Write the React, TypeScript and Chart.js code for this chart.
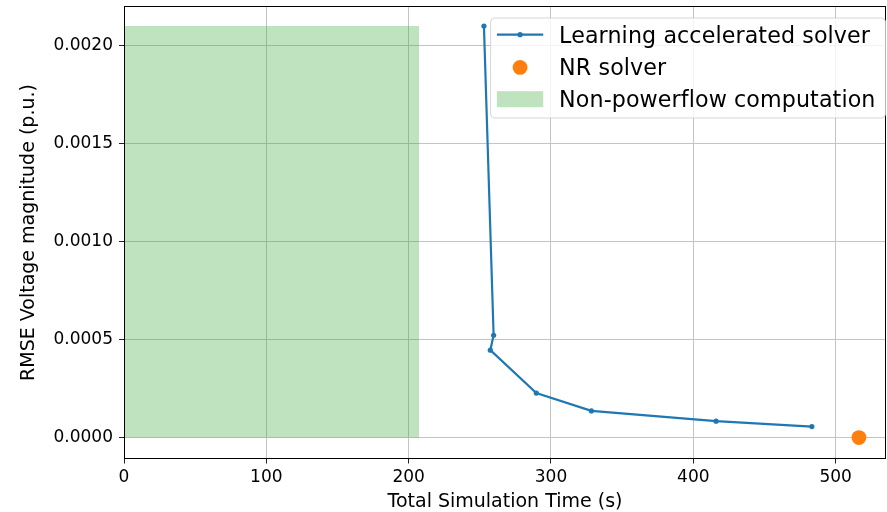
import React, { useEffect, useRef } from "react";
import { Chart, registerables } from "chart.js";

Chart.register(...registerables);

// ---- data ----
const learningX = [252.9, 259.7, 257.4, 289.7, 328.4, 416.0, 483.3];
const learningY = [0.0021, 0.000522, 0.000446, 0.000227, 0.000136, 0.0000837, 0.0000561];
const nrX = [516.4];
const nrY = [0.0];
const nonPowerflowX = [0, 207.5];
const nonPowerflowY = [0.0021, 0.0021];
const xTickValues = [0, 100, 200, 300, 400, 500];
const yTickValues = [0, 0.0005, 0.001, 0.0015, 0.002];
const seriesLabels = ["Learning accelerated solver", "NR solver", "Non-powerflow computation"];
const xTitle = "Total Simulation Time (s)";
const yTitle = "RMSE Voltage magnitude (p.u.)";

const FONT = "'DejaVu Sans', 'Liberation Sans', sans-serif";
const BLUE = "#1f77b4";
const ORANGE = "#ff7f0e";
const GREEN_FILL = "rgba(44,160,44,0.3)";

const framePlugin = {
  id: "frameAndLegend",
  afterDraw(chart: any) {
    const { ctx, chartArea } = chart;
    ctx.save();
    // spines (full box)
    ctx.strokeStyle = "#000";
    ctx.lineWidth = 1;
    const l = Math.round(chartArea.left) + 0.5;
    const r = Math.round(chartArea.right) - 0.5;
    const t = Math.floor(chartArea.top) + 0.5;
    const b = Math.floor(chartArea.bottom) + 0.5;
    ctx.strokeRect(l, t, r - l, b - t);

    // legend
    ctx.font = `22.2px ${FONT}`;
    if ("letterSpacing" in ctx) (ctx as any).letterSpacing = "0.1px";
    const widths = seriesLabels.map((s) => ctx.measureText(s).width);
    const maxW = Math.max(...widths);
    const frameRight = chartArea.right - 0.5;
    const frameW = 68.5 + maxW + 10;
    const frameLeft = frameRight - frameW;
    const frameTop = chartArea.top + 11.5;
    const frameH = 100;
    const rad = 4;
    ctx.beginPath();
    ctx.moveTo(frameLeft + rad, frameTop);
    ctx.lineTo(frameRight - rad, frameTop);
    ctx.arcTo(frameRight, frameTop, frameRight, frameTop + rad, rad);
    ctx.lineTo(frameRight, frameTop + frameH - rad);
    ctx.arcTo(frameRight, frameTop + frameH, frameRight - rad, frameTop + frameH, rad);
    ctx.lineTo(frameLeft + rad, frameTop + frameH);
    ctx.arcTo(frameLeft, frameTop + frameH, frameLeft, frameTop + frameH - rad, rad);
    ctx.lineTo(frameLeft, frameTop + rad);
    ctx.arcTo(frameLeft, frameTop, frameLeft + rad, frameTop, rad);
    ctx.closePath();
    ctx.fillStyle = "rgba(255,255,255,0.8)";
    ctx.fill();
    ctx.strokeStyle = "rgba(204,204,204,0.8)";
    ctx.lineWidth = 1;
    ctx.stroke();

    const textX = frameLeft + 68.5;
    const baselines = [frameTop + 25.3, frameTop + 56.8, frameTop + 88.6];
    const hx0 = frameLeft + 6.3;
    const hx1 = frameLeft + 52.6;
    const hcx = (hx0 + hx1) / 2;

    // row 1: line with point
    const y1 = baselines[0] - 8.6;
    ctx.strokeStyle = BLUE;
    ctx.lineWidth = 2.2;
    ctx.beginPath();
    ctx.moveTo(hx0, y1);
    ctx.lineTo(hx1, y1);
    ctx.stroke();
    ctx.fillStyle = BLUE;
    ctx.beginPath();
    ctx.arc(hcx, y1, 2.6, 0, Math.PI * 2);
    ctx.fill();

    // row 2: orange circle
    ctx.fillStyle = ORANGE;
    ctx.beginPath();
    ctx.arc(hcx, baselines[1] - 7.4, 7.4, 0, Math.PI * 2);
    ctx.fill();

    // row 3: green rect
    ctx.fillStyle = GREEN_FILL;
    ctx.fillRect(hx0, baselines[2] - 15.4, hx1 - hx0, 16);

    ctx.fillStyle = "#000";
    ctx.textBaseline = "alphabetic";
    ctx.textAlign = "left";
    seriesLabels.forEach((s, i) => ctx.fillText(s, textX, baselines[i]));
    ctx.restore();
  },
};

const zeroPadding = (scale: any) => {
  scale.paddingTop = 0;
  scale.paddingBottom = 0;
  scale.paddingLeft = 0;
  scale.paddingRight = 0;
};

export default function App() {
  const ref = useRef<HTMLCanvasElement | null>(null);

  useEffect(() => {
    const canvas = ref.current;
    if (!canvas) return;
    const chart = new Chart(canvas, {
      type: "line",
      data: {
        datasets: [
          {
            label: seriesLabels[0],
            data: learningX.map((x, i) => ({ x, y: learningY[i] })),
            borderColor: BLUE,
            backgroundColor: BLUE,
            borderWidth: 2.2,
            pointRadius: 2.6,
            pointBorderWidth: 0,
            pointBackgroundColor: BLUE,
            tension: 0,
            fill: false,
          },
          {
            label: seriesLabels[1],
            data: nrX.map((x, i) => ({ x, y: nrY[i] })),
            showLine: false,
            pointRadius: 7.4,
            pointBorderWidth: 0,
            pointBackgroundColor: ORANGE,
            borderColor: ORANGE,
            backgroundColor: ORANGE,
            fill: false,
          },
          {
            label: seriesLabels[2],
            data: nonPowerflowX.map((x, i) => ({ x, y: nonPowerflowY[i] })),
            borderWidth: 0,
            borderColor: "rgba(0,0,0,0)",
            pointRadius: 0,
            backgroundColor: GREEN_FILL,
            fill: "origin",
          },
        ],
      },
      options: {
        animation: false,
        responsive: true,
        maintainAspectRatio: false,
        layout: { autoPadding: false, padding: { left: 0, right: 1, top: 6.5, bottom: 0 } },
        plugins: {
          legend: { display: false },
          tooltip: { enabled: false },
        },
        scales: {
          x: {
            type: "linear",
            min: 0,
            max: 535.4,
            afterFit: (scale: any) => {
              scale.height = 53.5;
              zeroPadding(scale);
            },
            afterBuildTicks: (scale: any) => {
              scale.ticks = xTickValues.map((v) => ({ value: v }));
            },
            ticks: {
              includeBounds: false,
              stepSize: 100,
              padding: 3.5,
              color: "#000",
              font: { family: FONT, size: 17 },
              maxRotation: 0,
              autoSkip: false,
              callback: (v: any) => String(v),
            },
            grid: {
              color: "#c4c4c4",
              lineWidth: 1,
              tickColor: "#222",
              tickLength: 5,
              drawTicks: true,
            },
            border: { display: false },
            title: {
              display: true,
              text: xTitle,
              color: "#000",
              font: { family: FONT, size: 19 },
              padding: { top: 0, bottom: -1 },
            },
          },
          y: {
            type: "linear",
            min: -0.000107,
            max: 0.0022,
            afterFit: (scale: any) => {
              scale.width = 124;
              zeroPadding(scale);
            },
            afterBuildTicks: (scale: any) => {
              scale.ticks = yTickValues.map((v) => ({ value: v }));
            },
            ticks: {
              includeBounds: false,
              stepSize: 0.0005,
              padding: 6,
              color: "#000",
              autoSkip: false,
              font: { family: FONT, size: 17 },
              callback: (v: any) => Number(v).toFixed(4),
            },
            grid: {
              color: "#c4c4c4",
              lineWidth: 1,
              tickColor: "#222",
              tickLength: 5,
              drawTicks: true,
            },
            border: { display: false },
            title: {
              display: true,
              text: yTitle,
              color: "#000",
              font: { family: FONT, size: 19 },
              padding: { top: 18, bottom: 0 },
            },
          },
        },
      },
      plugins: [framePlugin],
    } as any);
    return () => chart.destroy();
  }, []);

  return (
    <div style={{ position: "fixed", left: 0, top: 0, width: 887, height: 512, background: "#fff" }}>
      <canvas ref={ref} />
    </div>
  );
}
